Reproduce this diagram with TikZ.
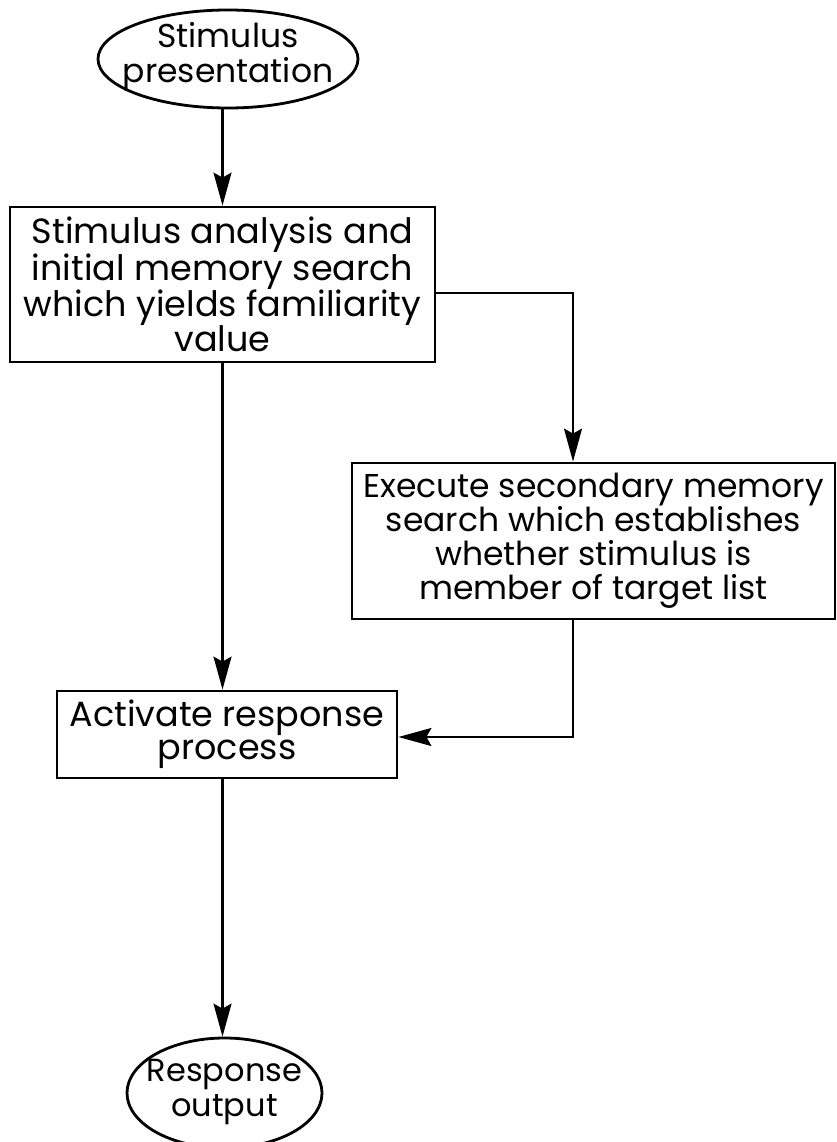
\documentclass[tikz,border=0pt]{standalone}
\usepackage{fontspec}
\setmainfont{Poppins}
\usetikzlibrary{arrows.meta,shapes.geometric,calc}
\newcommand{\fixtext}[1]{\smash{\makebox[0pt]{\raisebox{-5pt}{\begin{tabular}{@{}c@{}}#1\end{tabular}}}}}
\tikzset{
  proc/.style={draw, line width=2.8pt, rectangle, inner sep=0pt, align=center, font=\fontsize{35}{35}\selectfont},
  term/.style={draw, line width=2.8pt, ellipse, inner sep=0pt, font=\fontsize{33}{35}\selectfont},
  arr/.style={line width=2.2pt, -{Stealth[length=33pt,width=18pt,inset=5pt]}},
}
\begin{document}
\begin{tikzpicture}[x=1pt,y=-1pt]
\fill[white] (0,0) rectangle (837,1142);
\useasboundingbox (0,0) rectangle (837,1142);
\node[term, minimum width=260, minimum height=98] (s) at (228,59) {\fixtext{Stimulus\\presentation}};
\node[proc, minimum width=425, minimum height=155] (b1) at (222.5,284.5) {Stimulus analysis and\\initial memory search\\which yields familiarity\\value};
\node[proc, minimum width=483, minimum height=156, font=\fontsize{33}{34}\selectfont] (b2) at (593.5,541) {Execute secondary memory\\search which establishes\\whether stimulus is\\member of target list};
\node[proc, minimum width=340, minimum height=87, font=\fontsize{35}{33}\selectfont] (b3) at (227,734.5) {Activate response\\process};
\node[term, minimum width=195, minimum height=110, font=\fontsize{32}{35}\selectfont] (r) at (224.5,1093) {\fixtext{Response\\output}};
\coordinate (k1) at (573,293);
\coordinate (k2) at (573,737);
\draw[arr] (s.south -| b1.north) -- (b1.north);
\draw[arr] (b1.east |- k1) -- (k1) -- (b2.north -| k1);
\draw[arr] (b1.south) -- (b1.south |- b3.north);
\draw[arr] (b2.south -| k2) -- (k2) -- (b3.east |- k2);
\draw[arr] (b1.south |- b3.south) -- (b1.south |- r.north);
\end{tikzpicture}
\end{document}
